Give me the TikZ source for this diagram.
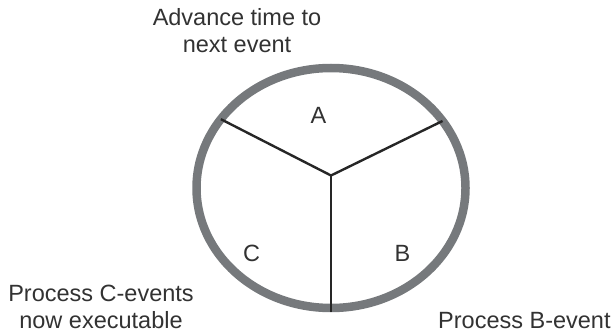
\documentclass[tikz,border=0pt]{standalone}
\usepackage{fontspec}
\setmainfont{Liberation Sans}
\usetikzlibrary{shapes.geometric}
\definecolor{rimgray}{RGB}{118,121,124}
\definecolor{spokeblack}{RGB}{38,38,38}
\definecolor{textgray}{RGB}{50,50,50}
\begin{document}
\begin{tikzpicture}[x=1pt,y=-1pt,
  rim/.style={draw=rimgray,line width=8.5pt,ellipse,inner sep=0pt,outer sep=0pt,
    minimum width=269pt,minimum height=240pt},
  spoke/.style={draw=spokeblack,line width=2.4pt},
  lbl/.style={text=textgray,inner sep=0pt,font=\fontsize{23.5}{27}\selectfont},
  sector/.style={lbl,anchor=base}]
\useasboundingbox (0,0) rectangle (615,331);

% the cycle wheel and its three sectors
\node[rim] (wheel) at (331,188) {};
\coordinate (hub) at (331,175.5);
\coordinate (rimbottom) at (331,312);
\draw[spoke] (hub) -- (wheel.148.5);
\draw[spoke] (hub) -- (wheel.31.5);
\draw[spoke] (hub) -- (rimbottom);

\node[sector] (secA) at (318.5,123.3) {A};
\node[sector] (secC) at (251.7,261) {C};
\node[sector] (secB) at (402.5,261) {B};

% phase descriptions (base anchor sits on the last line)
\node[lbl,align=center,anchor=base] (phaseA) at (237,53) {Advance time to\\next event};
\node[lbl,align=center,anchor=base] (phaseC) at (101,328) {Process C-events\\now executable};
\node[lbl,anchor=base west] (phaseB) at (438,328) {Process B-event};
\end{tikzpicture}
\end{document}
